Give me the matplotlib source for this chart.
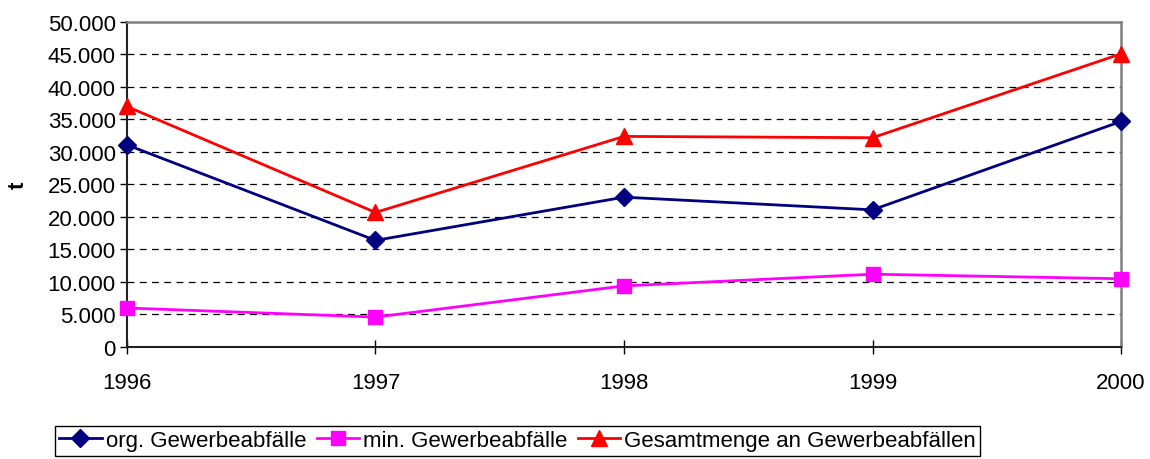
import matplotlib
matplotlib.use('Agg')
import matplotlib.pyplot as plt
from matplotlib.ticker import FuncFormatter

years = [1996, 1997, 1998, 1999, 2000]
org = [31100, 16400, 23050, 21100, 34700]
mineral = [6000, 4600, 9400, 11200, 10500]
gesamt = [37000, 20700, 32400, 32200, 45100]
labels = ['org. Gewerbeabfälle', 'min. Gewerbeabfälle',
          'Gesamtmenge an Gewerbeabfällen']

plt.rcParams['font.family'] = ['Liberation Sans', 'DejaVu Sans']

fig = plt.figure(figsize=(11.5, 4.6), dpi=100)
ax = fig.add_axes([0.1104, 0.2435, 0.8644, 0.7065])

ax.plot(years, org, color='#000080', lw=2.0, marker='D', ms=9,
        label=labels[0], clip_on=False, zorder=3)
ax.plot(years, mineral, color='#FF00FF', lw=2.0, marker='s', ms=10,
        label=labels[1], clip_on=False, zorder=3)
ax.plot(years, gesamt, color='#FF0000', lw=2.0, marker='^', ms=11,
        label=labels[2], clip_on=False, zorder=3)

ax.set_xlim(1996, 2000)
ax.set_ylim(0, 50000)
ax.set_xticks(years)
ax.set_yticks(range(0, 50001, 5000))
ax.yaxis.set_major_formatter(FuncFormatter(lambda v, p: f'{int(v):,}'.replace(',', '.')))

for y in range(5000, 50000, 5000):
    ax.axhline(y, color='black', lw=0.9, dashes=(5.5, 4.3), zorder=1)

for side in ['top', 'right']:
    ax.spines[side].set_color('#808080')
    ax.spines[side].set_linewidth(1.8)
for side in ['left', 'bottom']:
    ax.spines[side].set_color('#222222')
    ax.spines[side].set_linewidth(1.5)

ax.tick_params(axis='y', direction='out', length=5, width=1, labelsize=16, pad=3)
ax.tick_params(axis='x', direction='inout', length=10, width=1, labelsize=16, pad=13)

ax.set_ylabel('t', fontsize=16, fontweight='bold', labelpad=14)

leg = ax.legend(loc='upper left', bbox_to_anchor=(-0.0725, -0.242), ncol=3,
                fontsize=16, frameon=True, fancybox=False, framealpha=1,
                edgecolor='black', handlelength=1.9, handletextpad=0.2,
                columnspacing=0.45, borderpad=0.2, borderaxespad=0)
leg.get_frame().set_linewidth(1.0)

fig.savefig('out.png', dpi=100)
